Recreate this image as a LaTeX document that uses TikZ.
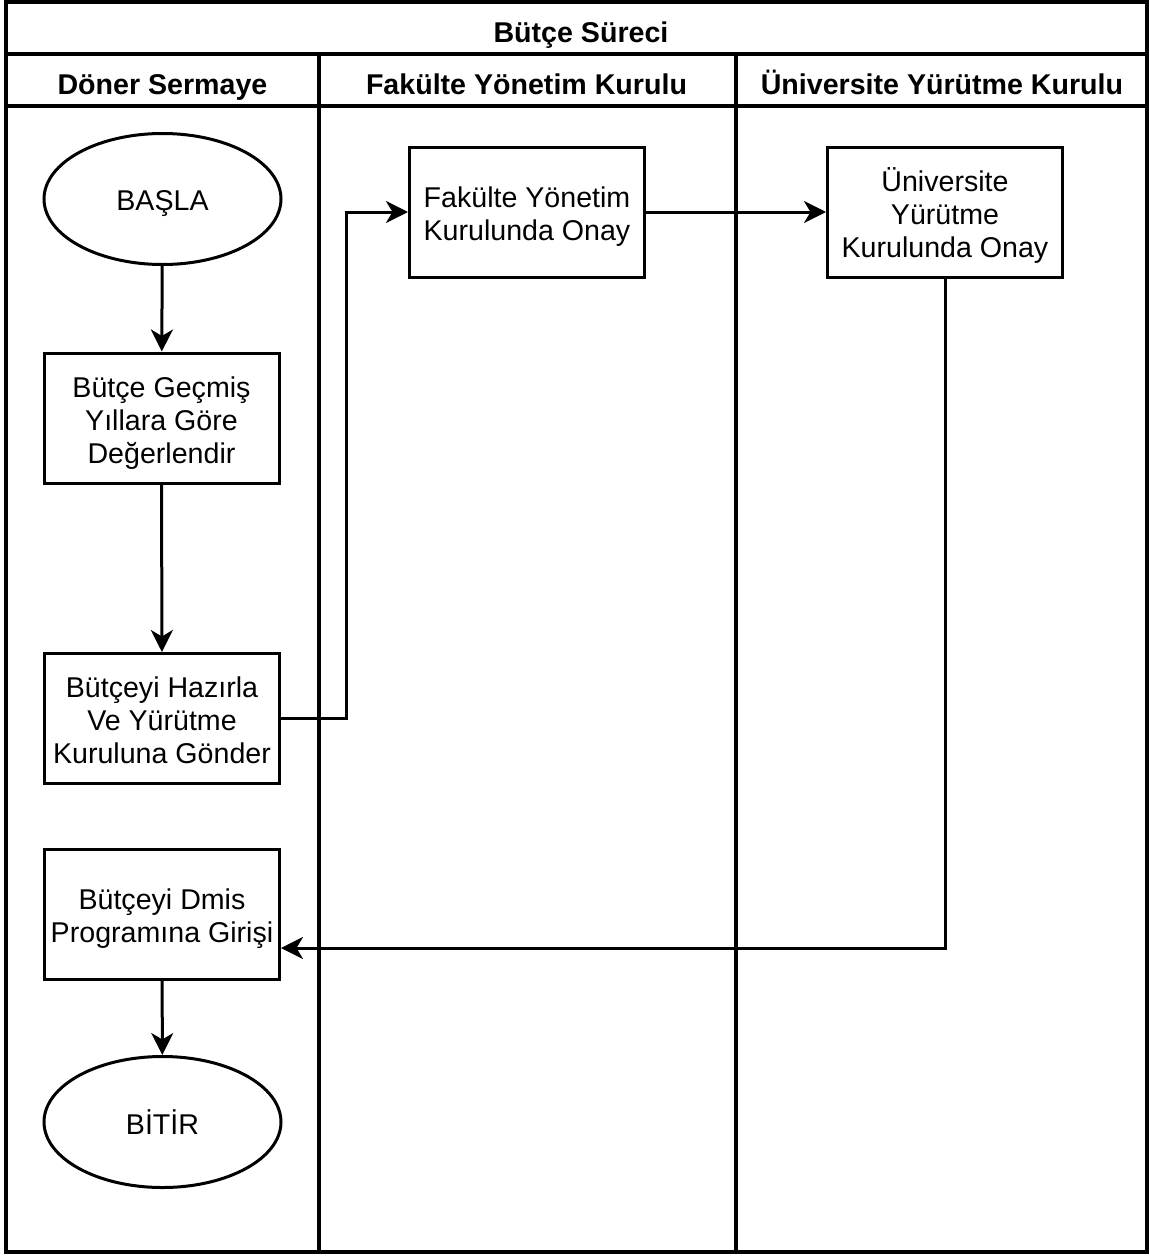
\documentclass[tikz,border=0pt]{standalone}
\usepackage{fontspec}
\setmainfont{Liberation Sans}
\usetikzlibrary{arrows.meta,shapes.geometric}

% first text line of a shape is given a fixed height, the last a fixed depth,
% so every label sits at the same place in its shape
\newcommand\capline{\rule{0pt}{30pt}}
\newcommand\lastlinedepth{\rule[-6pt]{0pt}{6pt}}

\tikzset{
  frame/.style={line width=3.4pt},
  boxtext/.style={align=center, font=\fontsize{28.6}{33}\selectfont,
    execute at end node=\lastlinedepth},
  procbox/.style={draw, line width=3pt, rectangle, minimum width=235pt, minimum height=130pt,
    inner sep=0pt, boxtext},
  terminal/.style={draw, line width=3pt, ellipse, minimum width=237pt, minimum height=131pt,
    inner sep=0pt, boxtext},
  lanehead/.style={anchor=base, inner sep=0pt, font=\bfseries\fontsize{28.6}{33}\selectfont},
  flow/.style={line width=3pt, -{Stealth[length=22pt,width=22pt,inset=6.5pt]}}
}

\begin{document}
\begin{tikzpicture}[x=1pt,y=-1pt]
  \useasboundingbox (0,0) rectangle (1149,1256);

  % pool frame, title row and lane headers
  \draw[frame] (6,2) rectangle (1147,1252);
  \draw[frame] (6,54) -- (1147,54);
  \draw[frame] (6,106) -- (1147,106);
  \draw[frame] (319,54) -- (319,1252);
  \draw[frame] (736,54) -- (736,1252);

  \node[lanehead] (title) at (581,42) {Bütçe Süreci};
  \node[lanehead] (laneA) at (162.5,94) {Döner Sermaye};
  \node[lanehead] (laneB) at (526.5,94) {Fakülte Yönetim Kurulu};
  \node[lanehead] (laneC) at (942,94) {Üniversite Yürütme Kurulu};

  % process steps
  \node[terminal] (start) at (162.5,199) {\capline BAŞLA};
  \node[procbox] (eval) at (161.5,418) {\capline Bütçe Geçmiş\\Yıllara Göre\\Değerlendir};
  \node[procbox] (prep) at (162,718.5) {\capline Bütçeyi Hazırla\\Ve Yürütme\\Kuruluna Gönder};
  \node[procbox] (dmis) at (162,914.5) {\capline Bütçeyi Dmis\\Programına Girişi};
  \node[terminal] (stop) at (162.5,1122) {\capline BİTİR};
  \node[procbox] (fak) at (527,212) {\capline Fakülte Yönetim\\Kurulunda Onay};
  \node[procbox] (univ) at (945,212.5) {\capline Üniversite\\Yürütme\\Kurulunda Onay};

  \coordinate (ret) at (0,948);

  % connectors
  \draw[flow] (start) -- (eval);
  \draw[flow] (eval) -- (prep);
  \draw[flow] (prep.east) -- ++(65,0) |- (fak.west);
  \draw[flow] (fak.east) -- (univ.west |- fak.east);
  \draw[flow] (univ.south) |- (dmis.east |- ret);
  \draw[flow] (dmis) -- (stop);
\end{tikzpicture}
\end{document}
